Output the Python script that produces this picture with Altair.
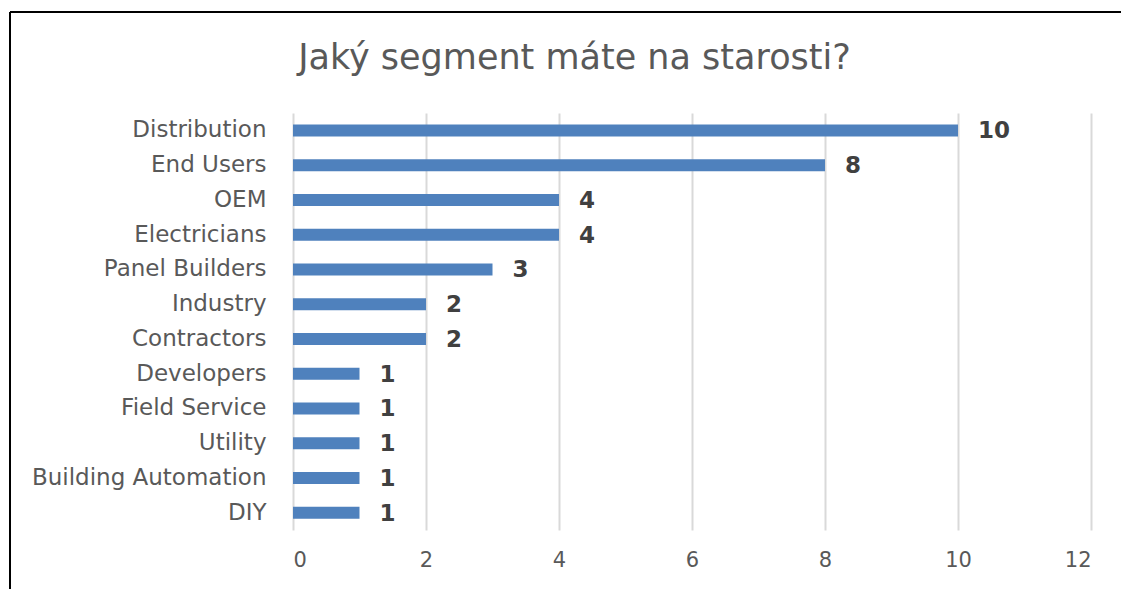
import altair as alt
import pandas as pd

categories = ["Distribution", "End Users", "OEM", "Electricians", "Panel Builders",
              "Industry", "Contractors", "Developers", "Field Service", "Utility",
              "Building Automation", "DIY"]
values = [10, 8, 4, 4, 3, 2, 2, 1, 1, 1, 1, 1]
x_ticks = [0, 2, 4, 6, 8, 10, 12]
title_text = "Jaký segment máte na starosti?"

df = pd.DataFrame({"segment": categories, "count": values})

FONT = "DejaVu Sans"
W, H = 798, 417
PL, PT = 285, 105

base = alt.Chart(df).encode(
    y=alt.Y("segment:N", sort=categories,
            scale=alt.Scale(paddingInner=0.6, paddingOuter=0.3),
            axis=alt.Axis(title=None, ticks=False, domain=False, grid=False,
                          labelFont=FONT, labelFontSize=23, labelColor="#595959",
                          labelPadding=27, labelLimit=0)),
)

bars = base.mark_bar(color="#4f81bd", size=12).encode(
    x=alt.X("count:Q", scale=alt.Scale(domain=[0, 12], nice=False),
            axis=alt.Axis(title=None, values=x_ticks, format="d", ticks=False, domain=False,
                          grid=True, gridColor="#d9d9d9", gridWidth=2,
                          labelFont=FONT, labelFontSize=21, labelColor="#595959",
                          labelPadding=19)),
)

labels = base.mark_text(align="left", baseline="middle", dx=20, dy=1, font=FONT,
                        fontSize=23, fontWeight="bold", color="#404040").encode(
    x="count:Q", text="count:Q"
)

title = alt.Chart(pd.DataFrame({"t": [title_text]})).mark_text(
    align="center", baseline="alphabetic", font=FONT, fontSize=35, color="#595959"
).encode(text="t:N", x=alt.value(574.5 - 8 - PL), y=alt.value(68.5 - 8 - PT))

border_top = alt.Chart(pd.DataFrame({"a": [0]})).mark_rule(color="black", strokeWidth=2).encode(
    x=alt.value(10 - 8 - PL), x2=alt.value(1129 - 8 - PL + 20), y=alt.value(12 - 8 - PT)
)
border_left = alt.Chart(pd.DataFrame({"a": [0]})).mark_rule(color="black", strokeWidth=2).encode(
    x=alt.value(10 - 8 - PL), y=alt.value(12 - 8 - PT), y2=alt.value(600 - PT)
)

chart = alt.layer(bars, labels, title, border_top, border_left).properties(
    width=W, height=H,
    autosize=alt.AutoSizeParams(type="none"),
    padding={"left": PL, "top": PT, "right": 30, "bottom": 60},
).configure_view(stroke=None)

chart.save("out.html", embed_options={"renderer": "svg", "actions": False})
